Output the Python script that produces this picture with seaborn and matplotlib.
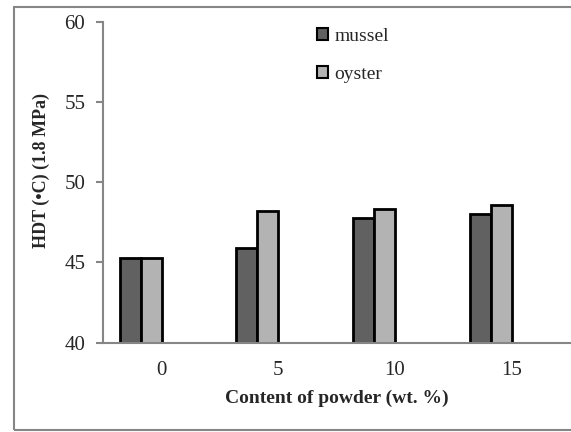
import matplotlib
matplotlib.use("Agg")
import matplotlib.pyplot as plt
import matplotlib.patches as mpatches
import seaborn as sns
import pandas as pd

categories = ["0", "5", "10", "15"]
mussel = [45.25, 45.93, 47.8, 48.05]
oyster = [45.25, 48.23, 48.36, 48.57]
series = ["mussel", "oyster"]
y_ticks = [40, 45, 50, 55, 60]

df = pd.DataFrame({
    "content": categories * 2,
    "HDT": mussel + oyster,
    "series": ["mussel"] * 4 + ["oyster"] * 4,
})

sns.set_theme(style="white")
plt.rcParams["font.family"] = ["Liberation Serif", "DejaVu Serif"]

fig = plt.figure(figsize=(5.71, 4.32), dpi=100)
ax = fig.add_axes([0.181, 0.207, 0.817, 0.742])

dark = "#616161"
light = "#b3b3b3"
hue_order = ["mussel", "oyster", "_e1", "_e2"]
sns.barplot(data=df, x="content", y="HDT", hue="series", hue_order=hue_order,
            order=categories, palette=[dark, light, "white", "white"],
            width=0.72, edgecolor="black", linewidth=2, ax=ax, legend=False,
            errorbar=None, saturation=1)

ax.set_ylim(40, 60)
ax.set_yticks(y_ticks)
ax.set_yticklabels([str(t) for t in y_ticks], fontsize=15)
ax.tick_params(axis="x", length=0, labelsize=15, pad=13)
ax.tick_params(axis="y", length=5, width=1.5, color="#868686", direction="out",
               left=True, labelsize=15, pad=8)
for s in ["top", "right"]:
    ax.spines[s].set_visible(False)
for s in ["left", "bottom"]:
    ax.spines[s].set_color("#868686")
    ax.spines[s].set_linewidth(1.5)

ax.set_xlabel("Content of powder (wt. %)", fontsize=14, fontweight="bold", labelpad=7)
ax.set_ylabel("HDT (•C) (1.8 MPa)", fontsize=13, fontweight="bold")
ax.yaxis.set_label_coords(-0.115, 0.538)

handles = [mpatches.Patch(facecolor=dark, edgecolor="black", linewidth=1.5),
           mpatches.Patch(facecolor=light, edgecolor="black", linewidth=1.5)]
leg = ax.legend(handles, series, loc="upper left",
                bbox_to_anchor=(307 / 571, 1 - 18 / 432),
                bbox_transform=fig.transFigure, frameon=False, borderpad=0,
                handlelength=0.6, handleheight=0.6, handletextpad=0.3,
                labelspacing=1.1, fontsize=14)

border = mpatches.Rectangle((13.5 / 571, 2 / 432), 1.2, 423 / 432,
                            transform=fig.transFigure, fill=False,
                            edgecolor="#868686", linewidth=1.5, clip_on=False)
fig.patches.append(border)

fig.savefig("out.png", dpi=100)
